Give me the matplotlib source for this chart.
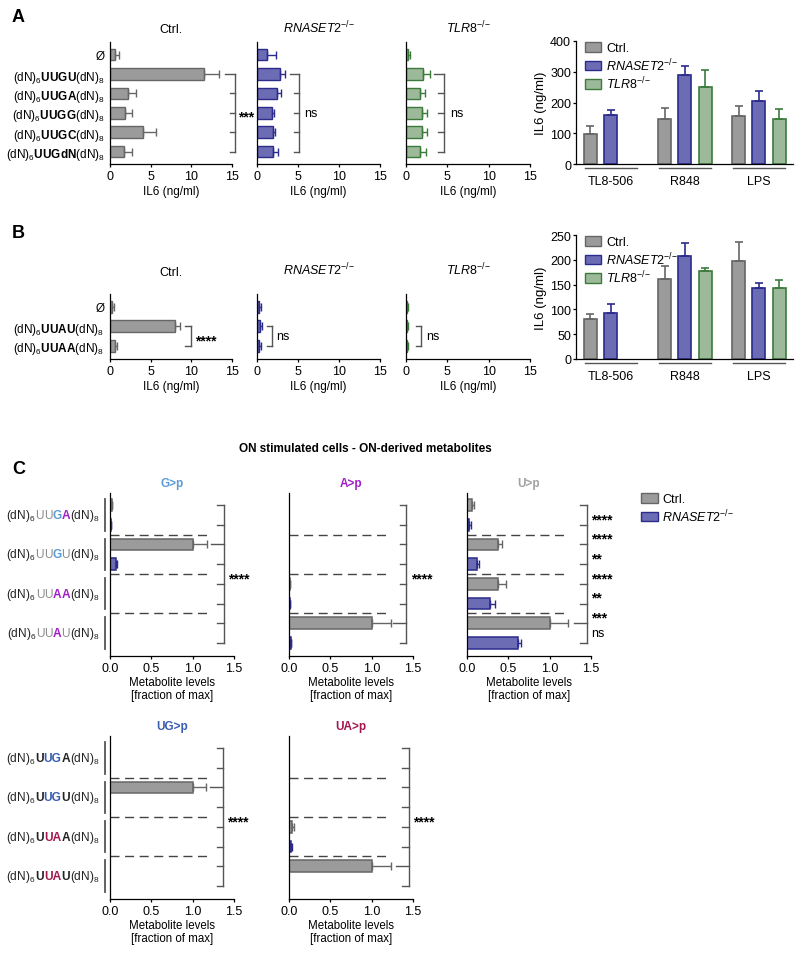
import numpy as np
import matplotlib
matplotlib.use("Agg")
import matplotlib.pyplot as plt
from matplotlib.patches import Patch
from matplotlib.offsetbox import TextArea, HPacker, AnnotationBbox

plt.rcParams['font.family'] = ['Liberation Sans', 'DejaVu Sans']
plt.rcParams['font.size'] = 8.5
plt.rcParams['axes.titlesize'] = 9
plt.rcParams['mathtext.fontset'] = 'custom'
plt.rcParams['mathtext.rm'] = 'Liberation Sans'
plt.rcParams['mathtext.it'] = 'Liberation Sans:italic'
plt.rcParams['mathtext.bf'] = 'Liberation Sans:bold'
plt.rcParams['mathtext.default'] = 'regular'
plt.rcParams['axes.linewidth'] = 0.9
plt.rcParams['xtick.major.width'] = 0.9
plt.rcParams['ytick.major.width'] = 0.9
plt.rcParams['xtick.major.size'] = 2.5
plt.rcParams['ytick.major.size'] = 2
plt.rcParams['xtick.major.pad'] = 2
plt.rcParams['ytick.major.pad'] = 1.5

# ---- panel A, IL6 per oligo ----
a_seqs = ["UUGU", "UUGA", "UUGG", "UUGC", "UUGdN"]
a_ctrl = [0.6, 11.6, 2.2, 1.9, 4.0, 1.7]
a_ctrl_err = [0.5, 1.8, 1.0, 0.8, 1.6, 1.0]
a_rnaset2 = [1.2, 2.75, 2.4, 1.8, 1.9, 2.0]
a_rnaset2_err = [1.1, 0.65, 0.55, 0.3, 0.3, 0.6]
a_tlr8 = [0.2, 2.0, 1.75, 1.95, 1.95, 1.7]
a_tlr8_err = [0.3, 0.9, 0.55, 0.55, 0.55, 0.7]

# ---- panel A, control stimuli ----
stimuli = ["TL8-506", "R848", "LPS"]
a_stim_ctrl = [99, 147, 155]
a_stim_ctrl_err = [24, 36, 33]
a_stim_rnaset2 = [158, 291, 205]
a_stim_rnaset2_err = [16, 29, 32]
a_stim_tlr8 = [np.nan, 249, 147]
a_stim_tlr8_err = [np.nan, 58, 31]

# ---- panel B ----
b_seqs = ["UUAU", "UUAA"]
b_ctrl = [0.3, 8.0, 0.6]
b_ctrl_err = [0.2, 0.6, 0.3]
b_rnaset2 = [0.3, 0.35, 0.3]
b_rnaset2_err = [0.2, 0.2, 0.2]
b_tlr8 = [0.15, 0.15, 0.15]
b_tlr8_err = [0.15, 0.15, 0.15]

b_stim_ctrl = [81, 162, 198]
b_stim_ctrl_err = [10, 25, 38]
b_stim_rnaset2 = [93, 208, 144]
b_stim_rnaset2_err = [17, 25, 10]
b_stim_tlr8 = [np.nan, 178, 144]
b_stim_tlr8_err = [np.nan, 6, 16]

# ---- panel C, metabolites (fraction of max) ----
c_seqs = ["UUGA", "UUGU", "UUAA", "UUAU"]
c_gp_ctrl = [0.02, 1.0, np.nan, np.nan]
c_gp_ctrl_err = [0.0, 0.17, np.nan, np.nan]
c_gp_rn = [0.01, 0.07, np.nan, np.nan]
c_gp_rn_err = [0.0, 0.02, np.nan, np.nan]
c_ap_ctrl = [np.nan, np.nan, 0.01, 1.0]
c_ap_ctrl_err = [np.nan, np.nan, 0.0, 0.23]
c_ap_rn = [np.nan, np.nan, 0.01, 0.02]
c_ap_rn_err = [np.nan, np.nan, 0.0, 0.01]
c_up_ctrl = [0.06, 0.38, 0.37, 1.0]
c_up_ctrl_err = [0.03, 0.04, 0.1, 0.22]
c_up_rn = [0.03, 0.12, 0.28, 0.62]
c_up_rn_err = [0.02, 0.02, 0.06, 0.03]
c_ugp_ctrl = [np.nan, 1.0, np.nan, np.nan]
c_ugp_ctrl_err = [np.nan, 0.16, np.nan, np.nan]
c_ugp_rn = [np.nan, np.nan, np.nan, np.nan]
c_ugp_rn_err = [np.nan, np.nan, np.nan, np.nan]
c_uap_ctrl = [np.nan, np.nan, 0.04, 1.0]
c_uap_ctrl_err = [np.nan, np.nan, 0.02, 0.23]
c_uap_rn = [np.nan, np.nan, 0.02, np.nan]
c_uap_rn_err = [np.nan, np.nan, 0.02, np.nan]
c_up_stars = ["****", "****", "**", "****", "**", "***", "ns"]

GRAY_F, GRAY_E = "#9b9b9b", "#666666"
BLUE_F, BLUE_E = "#6c6cb4", "#2b2b8c"
GREEN_F, GREEN_E = "#9cba9a", "#3c7a3c"
BRK = "#555555"
DARK = "#222222"
RN = r"$\mathit{RNASET2}^{{-}/{-}}$"
TL = r"$\mathit{TLR8}^{{-}/{-}}$"

W, H = 800, 954
fig = plt.figure(figsize=(8, 9.54), dpi=100)


def rect(x0, x1, y0, y1):
    return [x0 / W, 1 - y1 / H, (x1 - x0) / W, (y1 - y0) / H]


def clean(ax):
    ax.spines['top'].set_visible(False)
    ax.spines['right'].set_visible(False)


def mark(ax, x, y, s):
    if "*" in s:
        ax.annotate(s, (x, y), xytext=(0, -3), textcoords="offset points",
                    va="center", ha="left", fontsize=10, fontweight="bold",
                    annotation_clip=False)
    else:
        ax.annotate(s, (x, y), va="center", ha="left", fontsize=9,
                    annotation_clip=False)


def bracket(ax, xl, xs, rows, ref=None, xr=None):
    ax.plot([xl, xl], [rows[0], rows[-1]], color=BRK, lw=1, clip_on=False)
    for r in rows:
        x0 = xr if r == ref else xs
        ax.plot([x0, xl], [r, r], color=BRK, lw=1, clip_on=False)


def il6_panel(ax, vals, errs, fc, ec, title, labels=None, tpad=7):
    y = np.arange(len(vals))
    ax.barh(y, vals, height=0.6, color=fc, edgecolor=ec, lw=1)
    ax.errorbar(vals, y, xerr=[np.zeros(len(vals)), errs], fmt="none",
                ecolor=ec, elinewidth=1, capsize=3, capthick=1)
    ax.set_xlim(0, 15)
    ax.set_xticks([0, 5, 10, 15])
    ax.set_ylim(len(vals) - 1 + 0.64, -0.65)
    ax.set_yticks(y)
    if labels is None:
        ax.set_yticklabels([])
    else:
        ax.set_yticklabels(labels, fontsize=8.5)
    ax.tick_params(axis="y", length=0, pad=4)
    ax.tick_params(axis="x", labelsize=9)
    ax.set_xlabel("IL6 (ng/ml)", labelpad=2)
    ax.set_title(title, pad=tpad)
    clean(ax)


def stim_panel(ax, ctrl, ctrl_err, rn, rn_err, tl, tl_err, ymax, step):
    g = np.arange(len(stimuli))
    off, w = 0.275, 0.175
    for vals, errs, k, fc, ec in [(ctrl, ctrl_err, -1, GRAY_F, GRAY_E),
                                  (rn, rn_err, 0, BLUE_F, BLUE_E),
                                  (tl, tl_err, 1, GREEN_F, GREEN_E)]:
        vals = np.array(vals, float)
        errs = np.array(errs, float)
        m = np.isfinite(vals)
        ax.bar(g[m] + k * off, vals[m], width=w, color=fc, edgecolor=ec, lw=1.2)
        ax.errorbar(g[m] + k * off, vals[m], yerr=[np.zeros(m.sum()), errs[m]],
                    fmt="none", ecolor=ec, elinewidth=1.2, capsize=3, capthick=1.2)
    ax.set_xlim(-0.47, 2.46)
    ax.set_ylim(0, ymax)
    ax.set_yticks(np.arange(0, ymax + 1, step))
    ax.set_xticks(g)
    ax.set_xticklabels(stimuli)
    ax.tick_params(axis="x", length=0, pad=8, labelsize=9)
    ax.tick_params(axis="y", labelsize=9)
    for gi in g:
        ax.plot([gi - 0.35, gi + 0.35], [-0.035, -0.035], color=BRK, lw=1,
                transform=ax.get_xaxis_transform(), clip_on=False)
    ax.set_ylabel("IL6 (ng/ml)", labelpad=2, fontsize=9.5)
    handles = [Patch(fc=GRAY_F, ec=GRAY_E, label="Ctrl."),
               Patch(fc=BLUE_F, ec=BLUE_E, label=RN),
               Patch(fc=GREEN_F, ec=GREEN_E, label=TL)]
    ax.legend(handles=handles, loc="upper left", bbox_to_anchor=(0.0, 1.06),
              frameon=False, fontsize=9, handlelength=1.3, handleheight=0.8,
              handletextpad=0.4, labelspacing=0.15, borderaxespad=0.3)
    clean(ax)


def seq_label(s):
    if s == "Ø":
        return s
    return "(dN)$_6\\mathbf{" + s + "}$(dN)$_8$"


# ---------------- panel A ----------------
fig.text(12 / W, 1 - 17 / H, "A", fontsize=13, fontweight="bold", va="center")
ax = fig.add_axes(rect(110, 232, 43, 165))
il6_panel(ax, a_ctrl, a_ctrl_err, GRAY_F, GRAY_E, "Ctrl.",
          [seq_label(s) for s in ["Ø"] + a_seqs])
bracket(ax, 15.4, 14.8, [1, 2, 3, 4, 5], ref=1, xr=14.1)
mark(ax, 15.8, 3, "***")

ax = fig.add_axes(rect(257, 380, 43, 165))
il6_panel(ax, a_rnaset2, a_rnaset2_err, BLUE_F, BLUE_E, RN)
bracket(ax, 5.17, 4.47, [1, 2, 3, 4, 5], ref=1, xr=3.97)
mark(ax, 5.8, 3, "ns")

ax = fig.add_axes(rect(406, 530, 43, 165))
il6_panel(ax, a_tlr8, a_tlr8_err, GREEN_F, GREEN_E, TL)
bracket(ax, 4.55, 3.9, [1, 2, 3, 4, 5], ref=1, xr=3.4)
mark(ax, 5.4, 3, "ns")

ax = fig.add_axes(rect(576, 793, 42, 165))
stim_panel(ax, a_stim_ctrl, a_stim_ctrl_err, a_stim_rnaset2, a_stim_rnaset2_err,
           a_stim_tlr8, a_stim_tlr8_err, 400, 100)

# ---------------- panel B ----------------
fig.text(12 / W, 1 - 233 / H, "B", fontsize=13, fontweight="bold", va="center")
ax = fig.add_axes(rect(110, 232, 295, 359.5))
il6_panel(ax, b_ctrl, b_ctrl_err, GRAY_F, GRAY_E, "Ctrl.",
          [seq_label(s) for s in ["Ø"] + b_seqs], tpad=14)
bracket(ax, 10.0, 9.2, [1, 2])
mark(ax, 10.4, 1.5, "****")

ax = fig.add_axes(rect(257, 380, 295, 359.5))
il6_panel(ax, b_rnaset2, b_rnaset2_err, BLUE_F, BLUE_E, RN, tpad=14)
bracket(ax, 1.88, 1.2, [1, 2])
mark(ax, 2.3, 1.5, "ns")

ax = fig.add_axes(rect(406, 530, 295, 359.5))
il6_panel(ax, b_tlr8, b_tlr8_err, GREEN_F, GREEN_E, TL, tpad=14)
bracket(ax, 1.85, 1.15, [1, 2])
mark(ax, 2.4, 1.5, "ns")

ax = fig.add_axes(rect(576, 793, 236, 360))
stim_panel(ax, b_stim_ctrl, b_stim_ctrl_err, b_stim_rnaset2, b_stim_rnaset2_err,
           b_stim_tlr8, b_stim_tlr8_err, 250, 50)

# ---------------- panel C ----------------
fig.text(12 / W, 1 - 470 / H, "C", fontsize=13, fontweight="bold", va="center")
fig.text(365 / W, 1 - 449 / H, "ON stimulated cells - ON-derived metabolites",
         ha="center", va="center", fontweight="bold", fontsize=8.5)

COL_G, COL_A, COL_U = "#5a9bd8", "#a01fc8", "#a0a0a0"
COL_UG, COL_UA = "#3a5db0", "#a3174e"


def top_parts(s):
    parts = [("(dN)$_6$", DARK, "normal")]
    for ch in s:
        if ch == "U":
            parts.append((ch, "#8c8c8c", "normal"))
        elif ch == "G":
            parts.append((ch, COL_G, "bold"))
        else:
            parts.append((ch, COL_A, "bold"))
    parts.append(("(dN)$_8$", DARK, "normal"))
    return parts


def bottom_parts(s):
    mid = COL_UG if s[1:3] == "UG" else COL_UA
    return [("(dN)$_6$", DARK, "normal"), (s[0], DARK, "bold"),
            (s[1:3], mid, "bold"), (s[3], DARK, "bold"), ("(dN)$_8$", DARK, "normal")]


def seq_labels(ax, part_fn):
    for i, s in enumerate(c_seqs):
        boxes = [TextArea(t, textprops=dict(color=c, fontweight=w, fontsize=8.6))
                 for t, c, w in part_fn(s)]
        pack = HPacker(children=boxes, align="baseline", pad=0, sep=0)
        ab = AnnotationBbox(pack, (0, 2 * i + 0.5), xycoords=("axes fraction", "data"),
                            xybox=(-7.5, 0), boxcoords="offset points",
                            box_alignment=(1, 0.5), frameon=False, pad=0,
                            annotation_clip=False)
        ax.add_artist(ab)
        ax.plot([-0.065, -0.065], [2 * i - 0.3, 2 * i + 1.3], color=BRK, lw=1.3,
                clip_on=False)


def c_panel(ax, ctrl, ctrl_err, rn, rn_err, title, tcolor, bx, ref, stars):
    for vals, errs, k, fc, ec in [(ctrl, ctrl_err, 0, GRAY_F, GRAY_E),
                                  (rn, rn_err, 1, BLUE_F, BLUE_E)]:
        vals = np.array(vals, float)
        errs = np.array(errs, float)
        pos = np.arange(4) * 2 + k
        m = np.isfinite(vals)
        if m.any():
            ax.barh(pos[m], vals[m], height=0.6, color=fc, edgecolor=ec, lw=1.1)
            ax.errorbar(vals[m], pos[m], xerr=[np.zeros(m.sum()), errs[m]], fmt="none",
                        ecolor=ec, elinewidth=1, capsize=3, capthick=1)
    for s in [1.5, 3.5, 5.5]:
        ax.plot([0, 1.2], [s, s], color="#444444", lw=1, dashes=(6.5, 4))
    ax.set_xlim(0, 1.5)
    ax.set_xticks([0, 0.5, 1.0, 1.5])
    ax.set_xticklabels(["0.0", "0.5", "1.0", "1.5"])
    ax.tick_params(axis="x", labelsize=9)
    ax.set_ylim(7.66, -0.61)
    ax.set_yticks([])
    ax.set_xlabel("Metabolite levels\n[fraction of max]", labelpad=1,
                  linespacing=1.15, fontsize=8.3)
    ax.set_title(title, color=tcolor, fontweight="bold", pad=5, fontsize=8.5)
    bracket(ax, bx, bx - 0.08, list(range(8)), ref=ref, xr=bx - 0.16)
    if isinstance(stars, str):
        mark(ax, bx + 0.05, 3.5, stars)
    else:
        for i, s in enumerate(stars):
            mark(ax, bx + 0.05, i + 0.5, s)
    clean(ax)


ax = fig.add_axes(rect(110, 234, 494, 657))
c_panel(ax, c_gp_ctrl, c_gp_ctrl_err, c_gp_rn, c_gp_rn_err, "G>p", COL_G, 1.38, 2, "****")
seq_labels(ax, top_parts)

ax = fig.add_axes(rect(289, 413, 494, 657))
c_panel(ax, c_ap_ctrl, c_ap_ctrl_err, c_ap_rn, c_ap_rn_err, "A>p", COL_A, 1.42, 6, "****")

ax = fig.add_axes(rect(467, 591, 494, 657))
c_panel(ax, c_up_ctrl, c_up_ctrl_err, c_up_rn, c_up_rn_err, "U>p", COL_U, 1.45, 6, c_up_stars)

ax = fig.add_axes(rect(110, 234, 737, 900))
c_panel(ax, c_ugp_ctrl, c_ugp_ctrl_err, c_ugp_rn, c_ugp_rn_err, "UG>p", COL_UG, 1.37, 2, "****")
seq_labels(ax, bottom_parts)

ax = fig.add_axes(rect(289, 413, 737, 900))
c_panel(ax, c_uap_ctrl, c_uap_ctrl_err, c_uap_rn, c_uap_rn_err, "UA>p", COL_UA, 1.45, 6, "****")

fig.legend(handles=[Patch(fc=GRAY_F, ec=GRAY_E, label="Ctrl."),
                    Patch(fc=BLUE_F, ec=BLUE_E, label=RN)],
           loc="upper left", bbox_to_anchor=(630 / W, 1 - 483 / H), frameon=False,
           fontsize=9, handlelength=1.3, handleheight=0.8, handletextpad=0.4,
           labelspacing=0.15)

fig.savefig("out.png", dpi=100)
